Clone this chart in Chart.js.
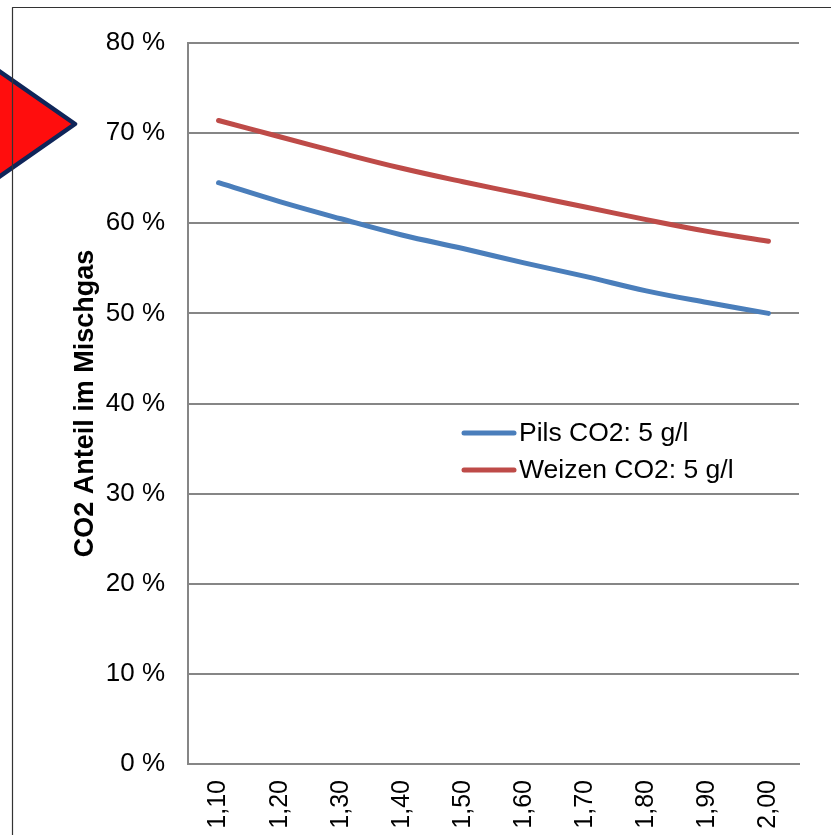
<!DOCTYPE html>
<html>
<head>
<meta charset="utf-8">
<script src="https://cdn.jsdelivr.net/npm/chart.js@4.4.1/dist/chart.umd.min.js"></script>
<style>
  html, body { margin: 0; padding: 0; background: #fff; }
  #wrap { width: 831px; height: 835px; position: relative; }
</style>
</head>
<body>
<div id="wrap"><canvas id="myChart" width="831" height="835"></canvas></div>
<script>
const labels = ["1,10", "1,20", "1,30", "1,40", "1,50", "1,60", "1,70", "1,80", "1,90", "2,00"];
const pils = [64.5, 62.4, 60.5, 58.7, 57.2, 55.6, 54.1, 52.5, 51.2, 50.0];
const weizen = [71.4, 69.6, 67.8, 66.1, 64.6, 63.2, 61.8, 60.4, 59.1, 58.0];
const seriesNames = ["Pils CO2: 5 g/l", "Weizen CO2: 5 g/l"];
const yTitle = "CO2 Anteil im Mischgas";

const FONT = "Arial, 'Liberation Sans', sans-serif";

// frame lines + the red arrow on the left, and the legend inside the plot
const decor = {
  id: "decor",
  beforeDraw(chart) {
    const c = chart.ctx;
    c.save();
    c.beginPath();
    c.moveTo(-40, 44);
    c.lineTo(75, 124);
    c.lineTo(-40, 204);
    c.closePath();
    c.fillStyle = "#ff0d0d";
    c.fill();
    c.lineWidth = 4.5;
    c.lineJoin = "round";
    c.strokeStyle = "#0f2559";
    c.stroke();

    c.strokeStyle = "#333";
    c.lineWidth = 1.2;
    c.beginPath();
    c.moveTo(12.5, 835);
    c.lineTo(12.5, 7.5);
    c.lineTo(831, 7.5);
    c.stroke();
    c.restore();
  },
  afterDraw(chart) {
    const c = chart.ctx;
    c.save();
    c.font = "26.5px " + FONT;
    c.textBaseline = "middle";
    c.lineCap = "round";
    chart.data.datasets.forEach((ds, i) => {
      const y = 433 + i * 37;
      c.strokeStyle = ds.borderColor;
      c.lineWidth = 5;
      c.beginPath();
      c.moveTo(464, y);
      c.lineTo(514, y);
      c.stroke();
      c.fillStyle = "#000";
      c.fillText(ds.label, 519, y + 1);
    });
    c.restore();
  }
};

const ctx = document.getElementById("myChart").getContext("2d");
var myChart = new Chart(ctx, {
  type: "line",
  data: {
    labels: labels,
    datasets: [
      {
        label: seriesNames[0],
        data: pils,
        borderColor: "#4a7ebb",
        borderWidth: 5,
        borderCapStyle: "round",
        pointRadius: 0,
        tension: 0.4,
        fill: false,
      },
      {
        label: seriesNames[1],
        data: weizen,
        borderColor: "#be4b48",
        borderWidth: 5,
        borderCapStyle: "round",
        pointRadius: 0,
        tension: 0.4,
        fill: false,
      },
    ],
  },
  options: {
    responsive: false,
    animation: false,
    layout: { padding: { left: 12, top: 43, right: 32, bottom: 0 } },
    plugins: {
      legend: { display: false },
      tooltip: { enabled: false },
    },
    scales: {
      x: {
        offset: true,
        grid: { display: false, drawTicks: false },
        border: { display: true, color: "#868686", width: 2 },
        ticks: {
          color: "#000",
          font: { family: FONT, size: 25 },
          minRotation: 90,
          maxRotation: 90,
          padding: 16,
          autoSkip: false,
        },
        afterFit(scale) { scale.height = 835 - 764; },
      },
      y: {
        min: 0,
        max: 80,
        grid: { color: "#868686", lineWidth: 2, drawTicks: false },
        border: { display: true, color: "#868686", width: 2 },
        ticks: {
          stepSize: 10,
          color: "#000",
          font: { family: FONT, size: 26 },
          padding: 23,
          callback: (v) => v + " %",
        },
        title: {
          display: true,
          text: yTitle,
          color: "#000",
          font: { family: FONT, size: 27, weight: "bold" },
          padding: { top: 57, bottom: 0 },
        },
        afterFit(scale) { scale.width = 188 - 12; },
      },
    },
  },
  plugins: [decor],
});
</script>
</body>
</html>
